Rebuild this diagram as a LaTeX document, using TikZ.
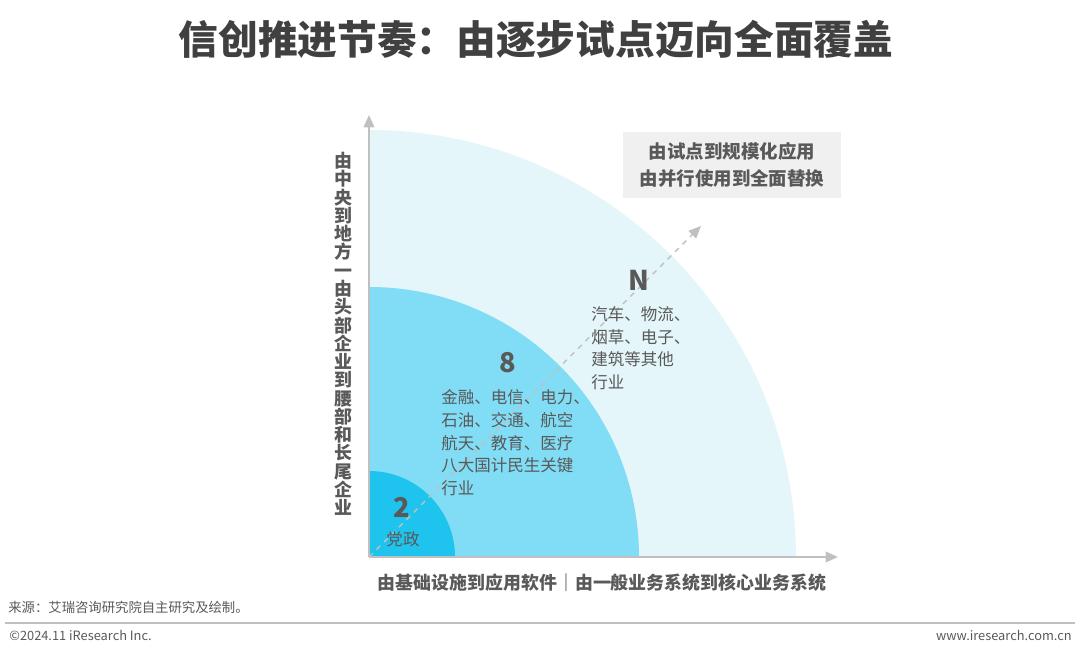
\documentclass[tikz,border=0pt]{standalone}
\usepackage{fontspec}
\setmainfont{Noto Sans CJK SC}
\usetikzlibrary{arrows.meta, positioning}
\definecolor{ringout}{RGB}{229,246,251}
\definecolor{ringmid}{RGB}{128,221,245}
\definecolor{ringin}{RGB}{30,196,238}
\definecolor{txtgray}{RGB}{89,89,89}
\definecolor{axisgray}{RGB}{192,192,192}
\definecolor{boxgray}{RGB}{240,240,240}

\begin{document}
\begin{tikzpicture}[x=0.02cm, y=0.02cm,
        axis/.style={draw=axisgray, line width=1.2pt, -{Triangle[length=7pt, width=6pt]}},
        diag/.style={draw=axisgray, line width=0.8pt, dashed, -{Triangle[length=7pt, width=6pt]}},
        num/.style={font=\fontsize{15.5}{17}\selectfont\bfseries, text=txtgray, inner sep=0pt},
        field/.style={font=\fontsize{9.4}{13}\selectfont, text=txtgray, align=left, inner sep=0pt, anchor=north west},
        axlabel/.style={font=\fontsize{10.2}{10.4}\selectfont\bfseries, text=txtgray, inner sep=0pt}
    ]
        \useasboundingbox (0,0) rectangle (1080,651);
        % Title
        \node[font=\fontsize{22.6}{26}\selectfont\bfseries, text=black!75] (title) at (536,612) {信创推进节奏：由逐步试点迈向全面覆盖};

        % Quarter rings
        \coordinate (o) at (369,94);
        \fill[ringout] (o) -- (796,94) arc[start angle=0, end angle=90, radius=427] -- cycle;
        \fill[ringmid] (o) -- (639,94) arc[start angle=0, end angle=90, radius=270] -- cycle;
        \fill[ringin] (o) -- (455,94) arc[start angle=0, end angle=90, radius=86] -- cycle;

        % Axes and diagonal
        \coordinate (ytip) at (369,536);
        \coordinate (xtip) at (838,94);
        \coordinate (dtip) at (701,425);
        \draw[diag] (o) -- (dtip);
        \draw[axis] (o) -- (ytip);
        \draw[axis] (o) -- (xtip);

        % Box at upper right
        \node[fill=boxgray, minimum width=4.36cm, minimum height=1.32cm, align=center,
              font=\fontsize{10.5}{15.5}\selectfont\bfseries, text=txtgray] (goal) at (732,486)
              {由试点到规模化应用\\由并行使用到全面替换};

        % Numbers and fields
        \node[num] (nN) at (639,371) {N};
        \node[field] (fN) at (591,345) {汽车、物流、\\烟草、电子、\\建筑等其他\\行业};
        \node[num] (n8) at (508,288) {8};
        \node[field] (f8) at (441,262) {金融、电信、电力、\\石油、交通、航空\\航天、教育、医疗\\八大国计民生关键\\行业};
        \node[num] (n2) at (402,144) {2};
        \node[font=\fontsize{9.4}{11}\selectfont, text=txtgray, inner sep=0pt] (f2) at (403,112) {党政};

        % Axis labels
        \node[axlabel, align=center, text width=1em] (ylab) at (343,317)
              {由\\中\\央\\到\\地\\方\\一\\由\\头\\部\\企\\业\\到\\腰\\部\\和\\长\\尾\\企\\业};
        \node[axlabel] (xlab) at (602,68) {由基础设施到应用软件｜由一般业务系统到核心业务系统};

        % Footer
        \node[font=\fontsize{7.6}{8}\selectfont, text=txtgray, anchor=west, inner sep=0pt] (src) at (8,44) {来源：艾瑞咨询研究院自主研究及绘制。};
        \draw[axisgray, line width=0.8pt] (5,28) -- (1075,28);
        \node[font=\fontsize{7.3}{8}\selectfont, text=txtgray, anchor=west, inner sep=0pt] (copy) at (9,16) {©2024.11 iResearch Inc.};
        \node[font=\fontsize{7.3}{8}\selectfont, text=txtgray, anchor=east, inner sep=0pt] (web) at (1072,16) {www.iresearch.com.cn};
    \end{tikzpicture}
\end{document}
